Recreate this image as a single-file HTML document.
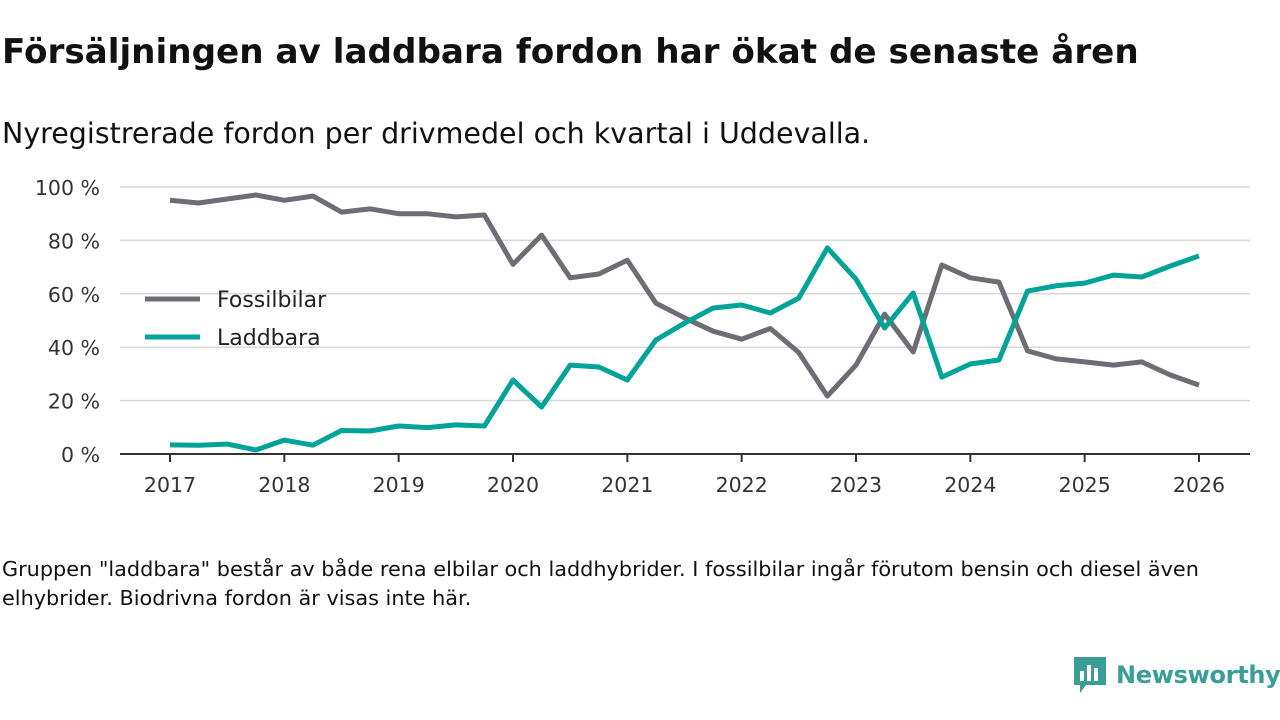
<!DOCTYPE html>
<html><head><meta charset="utf-8">
<style>
body{margin:0;width:1280px;height:720px;background:#fff;font-family:"DejaVu Sans","Liberation Sans",sans-serif;color:#111;overflow:hidden;position:relative}
#title{position:absolute;left:2px;top:32px;font-size:34.2px;font-weight:bold;white-space:nowrap}
#sub{position:absolute;left:2px;top:117px;font-size:28.5px;white-space:nowrap}
#note{position:absolute;left:2px;top:555px;font-size:20.8px;line-height:29px;width:1225px}
#logo{position:absolute;left:1072px;top:655px;display:flex;align-items:center;gap:8px;color:#3a9e96;font-size:24px;font-weight:bold;white-space:nowrap;letter-spacing:-0.3px}
svg{position:absolute;left:0;top:0}
</style></head><body>
<div id="title">Försäljningen av laddbara fordon har ökat de senaste åren</div>
<div id="sub">Nyregistrerade fordon per drivmedel och kvartal i Uddevalla.</div>
<svg id="chart" width="1280" height="540"></svg>
<div id="note">Gruppen "laddbara" består av både rena elbilar och laddhybrider. I fossilbilar ingår förutom bensin och diesel även elhybrider. Biodrivna fordon är visas inte här.</div>
<div id="logo">
<svg width="36" height="40" viewBox="0 0 36 40" style="position:static"><path d="M2 2h32v28H14l-6 8v-8H2z" fill="#3a9e96"/><rect x="8" y="16" width="4" height="10" fill="#fff"/><rect x="15" y="10" width="4" height="16" fill="#fff"/><rect x="22" y="13" width="4" height="13" fill="#fff"/></svg>
<span>Newsworthy</span></div>
<script>
const years=[2017,2018,2019,2020,2021,2022,2023,2024,2025,2026];
const yTicks=[0,20,40,60,80,100];
const fossil=[95,94,95.5,97,95,96.6,90.6,91.8,90,90,88.8,89.5,71,82,66,67.4,72.6,56.5,51,46,43,47,38,21.7,33.3,52.4,38.2,70.8,66,64.4,38.6,35.6,34.5,33.3,34.5,29.6,25.8];
const laddbara=[3.4,3.3,3.7,1.5,5.2,3.3,8.8,8.6,10.5,9.9,10.9,10.5,27.7,17.6,33.3,32.6,27.7,42.7,49,54.7,55.8,52.8,58.4,77.2,65.5,47.2,60.3,28.8,33.7,35.2,61,63,64,67,66.3,70.4,74.2];
const NS="http://www.w3.org/2000/svg";
const svg=document.getElementById('chart');
const x=t=>170+(t-2017)*(1199-170)/9;
const y=v=>454-v*(454-187)/100;
function mk(tag,attrs,parent){const e=document.createElementNS(NS,tag);for(const k in attrs)e.setAttribute(k,attrs[k]);(parent||svg).appendChild(e);return e;}
yTicks.forEach(v=>{
  if(v>0){const g=mk('line',{x1:120,x2:1250,y1:y(v),y2:y(v),stroke:'#d8d8d8','stroke-width':1.5});
  
  }
  const t=mk('text',{x:100,y:y(v)+8,'text-anchor':'end','font-size':20.5,fill:'#333','font-family':'DejaVu Sans, sans-serif'});
  t.textContent=v+' %';
  
  
});
const ax=mk('line',{x1:120,x2:1250,y1:454,y2:454,stroke:'#333','stroke-width':2});


years.forEach(yr=>{
  const tk=mk('line',{x1:x(yr),x2:x(yr),y1:454,y2:462,stroke:'#333','stroke-width':2});
  
  
  const t=mk('text',{x:x(yr),y:492,'text-anchor':'middle','font-size':20.5,fill:'#333','font-family':'DejaVu Sans, sans-serif'});
  t.textContent=yr;
  
  
});
function line(data,color,name){
  const d=data.map((v,i)=>(i?'L':'M')+x(2017+i*0.25).toFixed(1)+' '+y(v).toFixed(1)).join(' ');
  const p=mk('path',{d:d,fill:'none',stroke:color,'stroke-width':5,'stroke-linejoin':'round'});
  
  
}
line(fossil,'#6e6c74','line-fossilbilar');
line(laddbara,'#00a397','line-laddbara');
const leg=[['Fossilbilar','#6e6c74',299],['Laddbara','#00a397',337]];
leg.forEach(([n,c,yy])=>{
  const l=mk('line',{x1:145,x2:200,y1:yy,y2:yy,stroke:c,'stroke-width':5});
  
  
  const t=mk('text',{x:217,y:yy+8,'font-size':22,fill:'#222','font-family':'DejaVu Sans, sans-serif'});
  t.textContent=n;
  
  
});
</script>
</body></html>
